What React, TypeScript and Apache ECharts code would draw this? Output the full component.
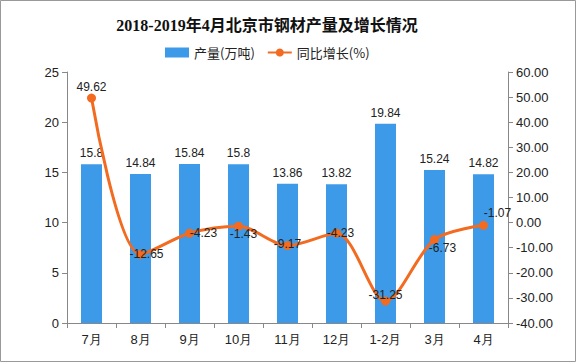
import React, { useEffect, useRef } from "react";
import * as echarts from "echarts";

const categories = ["7月", "8月", "9月", "10月", "11月", "12月", "1-2月", "3月", "4月"];
const output = [15.8, 14.84, 15.84, 15.8, 13.86, 13.82, 19.84, 15.24, 14.82];
const growth = [49.62, -12.65, -4.23, -1.43, -9.17, -4.23, -31.25, -6.73, -1.07];
const leftTicks = { min: 0, max: 25, interval: 5 };
const rightTicks = { min: -40, max: 60, interval: 10 };
const labelOffsets: [number, number][] = [
  [0, -11], [6, 0], [14, 0], [5, 8], [0, -2], [4, 0], [0, -6], [8, 9], [14, -12],
];

export default function App() {
  const ref = useRef<HTMLDivElement>(null);
  useEffect(() => {
    if (!ref.current) return;
    const chart = echarts.init(ref.current, null, { renderer: "svg" });
    chart.setOption({
      animation: false,
      backgroundColor: "#fff",
      title: {
        text: "2018-2019年4月北京市钢材产量及增长情况",
        left: 262,
        textAlign: "center",
        top: 12,
        textStyle: { fontSize: 16, fontWeight: "bold", color: "#111", fontFamily: "'Liberation Serif', 'Noto Sans CJK SC', serif" },
      },
      legend: {
        left: 160,
        top: 41,
        itemGap: 12,
        itemWidth: 24,
        itemHeight: 10,
        textStyle: { fontSize: 13, color: "#222", fontFamily: "'Noto Sans CJK SC', sans-serif" },
        data: [
          { name: "产量(万吨)", icon: "rect" },
          { name: "同比增长(%)" },
        ],
      },
      graphic: [
        {
          type: "rect",
          shape: { x: 0.5, y: 0.5, width: 575, height: 361 },
          style: { fill: "none", stroke: "#999", lineWidth: 1 },
          silent: true,
        },
      ],
      grid: { left: 67, right: 68, top: 72, bottom: 40 },
      xAxis: {
        type: "category",
        data: categories,
        boundaryGap: true,
        axisLine: { lineStyle: { color: "#888" } },
        axisTick: { show: true, alignWithLabel: false, lineStyle: { color: "#888" } },
        axisLabel: { color: "#222", fontSize: 13, margin: 10 },
      },
      yAxis: [
        {
          type: "value",
          ...leftTicks,
          axisLine: { show: true, lineStyle: { color: "#888" } },
          axisTick: { show: true, lineStyle: { color: "#888" } },
          splitLine: { show: false },
          axisLabel: { color: "#222", fontSize: 13 },
        },
        {
          type: "value",
          ...rightTicks,
          axisLine: { show: true, lineStyle: { color: "#888" } },
          axisTick: { show: true, lineStyle: { color: "#888" } },
          splitLine: { show: false },
          axisLabel: { color: "#222", fontSize: 13, formatter: (v: number) => v.toFixed(2) },
        },
      ],
      series: [
        {
          name: "产量(万吨)",
          type: "bar",
          data: output,
          barWidth: 21,
          itemStyle: { color: "#3d9ae8" },
          label: { show: true, position: "top", color: "#222", fontSize: 12 },
        },
        {
          name: "同比增长(%)",
          type: "line",
          yAxisIndex: 1,
          smooth: 0.3,
          data: growth.map((v, i) => ({
            value: v,
            label: { offset: labelOffsets[i] },
          })),
          symbol: "circle",
          symbolSize: 9,
          lineStyle: { color: "#f26b21", width: 3 },
          itemStyle: { color: "#f26b21" },
          label: { show: true, position: "inside", color: "#222", fontSize: 12 },
        },
      ],
    });
    return () => chart.dispose();
  }, []);
  return <div ref={ref} style={{ width: 576, height: 363, position: "absolute", left: 0, top: 0 }} />;
}
